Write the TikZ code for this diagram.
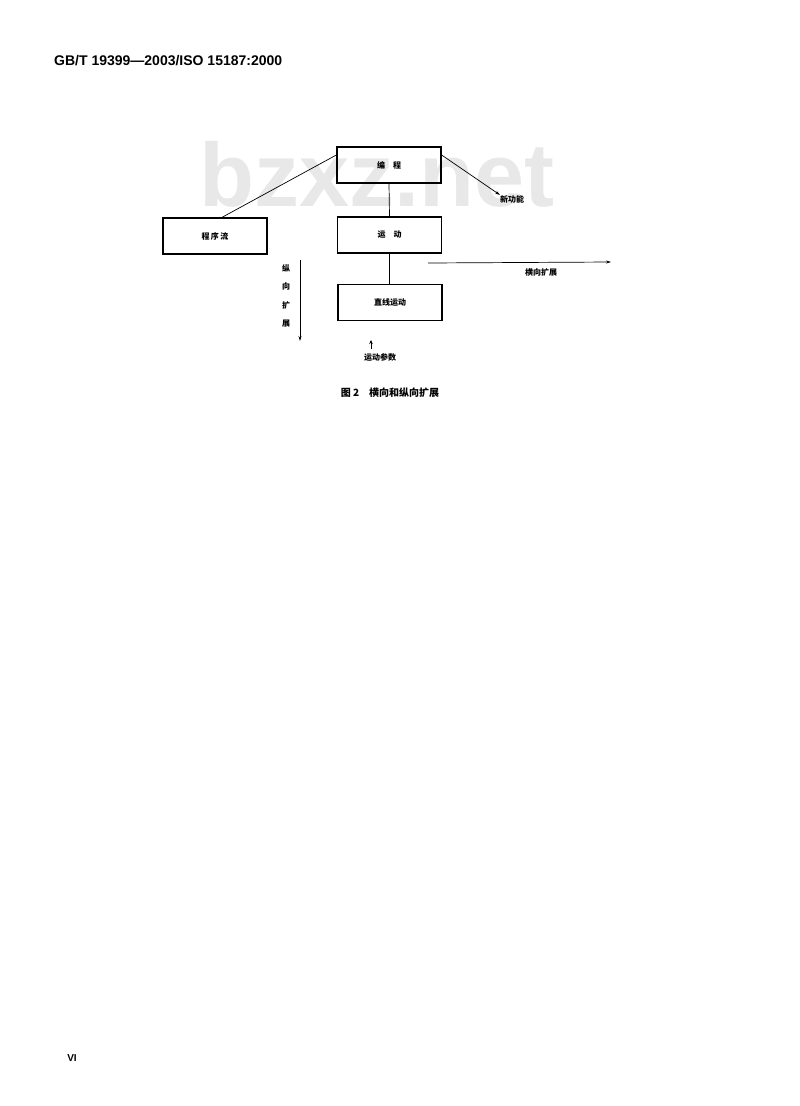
\documentclass[tikz,border=0pt]{standalone}
\usepackage{fontspec}
\setmainfont{Liberation Sans}
\newfontfamily\cjk{Noto Sans CJK SC}
\usetikzlibrary{arrows.meta}
\begin{document}
\begin{tikzpicture}[x=1pt,y=-1pt,
  boxnode/.style={draw,line width=1.3pt,minimum width=104pt,minimum height=36pt,inner sep=0pt,font=\cjk\fontsize{8}{9}\selectfont\bfseries},
  lbl/.style={font=\cjk\fontsize{8}{9}\selectfont\bfseries,inner sep=0pt},
  conn/.style={line width=0.7pt},
  arr/.style={line width=0.7pt,-{Stealth[length=5pt,width=3pt]}}]
\useasboundingbox (0,0) rectangle (800,1106);
% watermark
\node[font=\fontsize{90}{90}\selectfont\bfseries,text=black!9,inner sep=0pt] (wm) at (377,174) {bzxz.net};
% header and page number
\node[anchor=west,font=\fontsize{14}{16}\selectfont\bfseries,inner sep=0pt] (hdr) at (54,61) {GB/T 19399—2003/ISO 15187:2000};
\node[font=\fontsize{10}{12}\selectfont\bfseries,inner sep=0pt] (pg) at (72,1058) {VI};
% boxes
\node[boxnode] (bc) at (389,165) {编\quad 程};
\node[boxnode] (cxl) at (215,236) {程\,序\,流};
\node[boxnode] (yd) at (389.5,235) {运\quad 动};
\node[boxnode] (zx) at (390,302.5) {直线运动};
% connectors
\draw[conn] (bc.south) -- (yd.north);
\draw[conn] (yd.south) -- (yd.south |- zx.north);
\coordinate (cxt) at ([xshift=7pt]cxl.north);
\draw[conn] ([yshift=10pt]bc.west) -- (cxt);
\node[lbl,anchor=west] (xgn) at (500,199) {新功能};
\draw[arr] ([yshift=10pt]bc.east) -- (xgn.north west);
% horizontal expansion
\coordinate (hs) at (428,263);
\coordinate (he) at (611,262);
\draw[arr] (hs) -- (he);
\node[lbl] (hxkz) at (541,272) {横向扩展};
% vertical expansion
\coordinate (vs) at (300,260);
\coordinate (ve) at (300,341);
\draw[arr] (vs) -- (ve);
\node[lbl,align=center,font=\cjk\fontsize{8}{18.5}\selectfont\bfseries] (zxkz) at (286,296) {纵\\向\\扩\\展};
% motion parameters
\node[lbl] (ydcs) at (380,357) {运动参数};
\coordinate (ua) at (371,349);
\draw[line width=0.6pt,-{Stealth[length=4pt,width=3.5pt]}] (ua) -- ++(0,-9);
% caption
\node[font=\cjk\fontsize{10}{12}\selectfont\bfseries,inner sep=0pt] (cap) at (390,393) {图 2\quad 横向和纵向扩展};
\end{tikzpicture}
\end{document}
